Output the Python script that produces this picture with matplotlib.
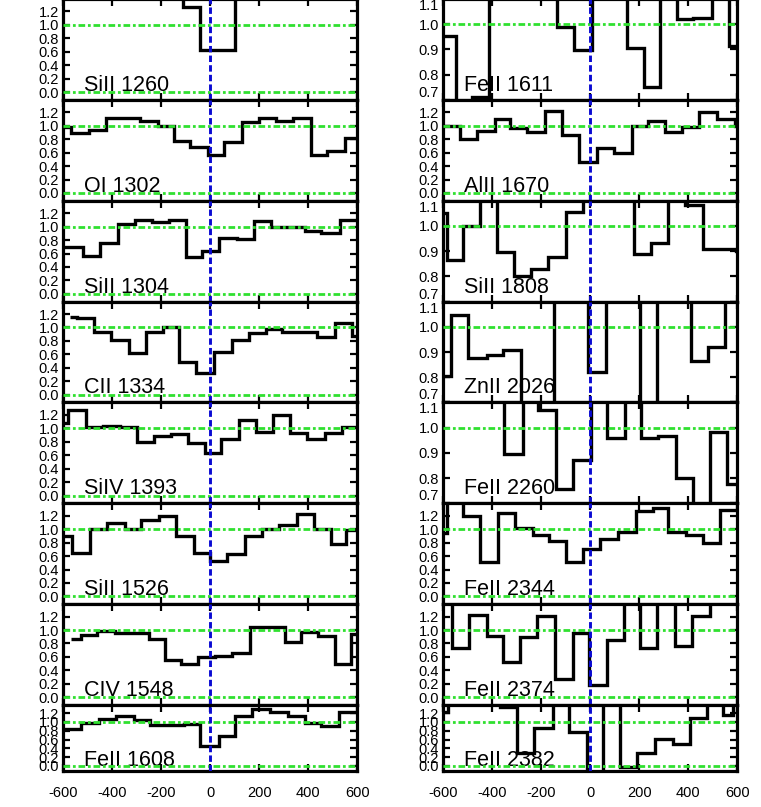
import matplotlib
matplotlib.use('Agg')
import matplotlib.pyplot as plt
from matplotlib.ticker import FixedLocator, FormatStrFormatter

plt.rcParams['font.family'] = ['Liberation Sans', 'DejaVu Sans']

# ---------------- data (velocity bin edges in km/s, normalised flux) ----------------
SiII1260_v = [-650, -111, -40, 30, 99, 650]
SiII1260_f = [1.6, 1.26, 0.63, 0.63, 1.6]

OI1302_v = [-640, -570, -497, -427, -358, -288, -214, -150, -82, -10, 56, 129, 197, 269, 339, 412, 478, 548, 650]
OI1302_f = [0.975, 0.89, 0.94, 1.12, 1.12, 1.07, 0.99, 0.77, 0.68, 0.56, 0.76, 1.05, 1.11, 1.07, 1.11, 0.56, 0.63, 0.82]

SiII1304_v = [-660, -520, -450, -377, -309, -237, -169, -98, -33, 35, 109, 178, 249, 317, 385, 453, 528, 660]
SiII1304_f = [0.69, 0.56, 0.76, 1.04, 1.10, 1.07, 1.10, 0.55, 0.63, 0.83, 0.82, 1.09, 1.00, 1.00, 0.93, 0.91, 1.10]

CII1334_v = [-574, -546, -475, -404, -332, -264, -193, -128, -57, 15, 90, 158, 229, 293, 365, 437, 508, 578, 650]
CII1334_f = [1.16, 1.14, 0.93, 0.81, 0.62, 0.93, 1.01, 0.49, 0.32, 0.64, 0.81, 0.92, 0.97, 0.93, 0.93, 0.86, 1.07, 0.87]

SiIV1393_v = [-650, -580, -508, -438, -370, -301, -230, -159, -91, -23, 45, 117, 188, 256, 327, 396, 467, 537, 650]
SiIV1393_f = [1.08, 1.27, 1.02, 1.04, 1.02, 0.80, 0.89, 0.91, 0.78, 0.64, 0.84, 1.13, 0.95, 1.20, 0.93, 0.84, 0.93, 1.02]

SiII1526_v = [-650, -565, -490, -422, -350, -282, -210, -139, -68, -3, 69, 140, 211, 279, 354, 423, 491, 555, 650]
SiII1526_f = [0.90, 0.64, 1.00, 1.09, 1.00, 1.14, 1.20, 0.90, 0.65, 0.52, 0.63, 0.90, 1.00, 1.06, 1.22, 1.00, 0.78, 0.99]

CIV1548_v = [-570, -529, -461, -391, -320, -252, -186, -118, -50, 20, 90, 161, 235, 303, 369, 439, 507, 576, 650]
CIV1548_f = [0.87, 0.93, 0.98, 0.96, 0.95, 0.86, 0.55, 0.50, 0.60, 0.62, 0.66, 1.05, 1.04, 0.82, 0.97, 0.91, 0.50, 0.94]

FeII1608_v = [-650, -529, -456, -384, -312, -248, -180, -108, -40, 34, 99, 171, 245, 317, 385, 453, 524, 650]
FeII1608_f = [0.83, 0.98, 1.07, 1.14, 1.04, 0.92, 0.92, 0.96, 0.45, 0.69, 1.13, 1.29, 1.22, 1.14, 0.98, 0.90, 1.22]

FeII1611_v = [-650, -548, -484, -412, -344, -275, -206, -137, -67, 5, 77, 148, 219, 284, 352, 420, 495, 567, 650]
FeII1611_f = [0.955, 0.65, 0.71, 1.2, 1.2, 1.2, 1.2, 0.988, 0.896, 1.2, 1.2, 0.905, 0.75, 1.2, 1.02, 1.026, 1.2, 0.912]

AlII1670_v = [-650, -532, -461, -389, -328, -260, -185, -114, -46, 26, 97, 169, 234, 305, 373, 444, 516, 590, 650]
AlII1670_f = [1.0, 0.80, 0.925, 1.10, 0.965, 0.90, 1.215, 0.865, 0.465, 0.675, 0.59, 0.99, 1.065, 0.90, 0.975, 1.20, 1.10, 1.0]

SiII1808_v = [-650, -586, -518, -450, -382, -312, -244, -174, -99, -29, 41, 109, 178, 246, 318, 386, 459, 529, 595, 650]
SiII1808_f = [1.05, 0.863, 1.0, 1.2, 0.895, 0.803, 0.83, 0.876, 1.057, 1.2, 1.2, 1.2, 0.888, 0.932, 1.2, 1.085, 0.908, 0.91, 0.90]

ZnII2026_v = [-650, -570, -498, -423, -358, -283, -215, -147, -78, -8, 64, 133, 203, 271, 340, 410, 482, 550, 650]
ZnII2026_f = [0.804, 1.045, 0.877, 0.89, 0.907, 0.6, 0.6, 1.2, 1.2, 0.82, 1.2, 1.2, 0.6, 1.2, 1.2, 0.864, 0.919, 1.2]

FeII2260_v = [-650, -352, -276, -212, -140, -69, 1, 67, 142, 205, 278, 350, 420, 488, 559, 650]
FeII2260_f = [1.2, 0.895, 1.2, 1.072, 0.756, 0.872, 1.2, 0.96, 1.2, 0.957, 0.967, 0.80, 0.6, 0.983, 0.778]

FeII2344_v = [-650, -586, -518, -450, -376, -308, -235, -167, -99, -29, 39, 114, 185, 254, 318, 390, 459, 529, 650]
FeII2344_f = [0.95, 1.6, 1.20, 0.505, 1.24, 1.025, 0.91, 0.817, 0.505, 0.70, 0.85, 0.96, 1.27, 1.31, 0.96, 0.916, 0.79, 1.28]

FeII2374_v = [-650, -566, -494, -423, -358, -287, -216, -144, -72, -4, 67, 137, 203, 273, 346, 414, 488, 650]
FeII2374_f = [1.6, 0.735, 1.225, 0.907, 0.525, 0.897, 1.21, 0.27, 0.956, 0.18, 0.858, 1.6, 0.735, 1.6, 0.77, 1.21, 1.6]

FeII2382_v = [-650, -580, -369, -298, -230, -154, -86, -15, 50, 121, 189, 264, 336, 407, 475, 543, 584, 650]
FeII2382_f = [1.22, 1.6, 1.33, 0.30, 0.87, 1.6, 0.77, -0.3, 1.6, -0.02, 0.30, 0.62, 0.50, 1.09, 1.6, 1.16, 1.6]

left_panels = [
    ("SiII 1260", SiII1260_v, SiII1260_f, "full"),
    ("OI 1302", OI1302_v, OI1302_f, "full"),
    ("SiII 1304", SiII1304_v, SiII1304_f, "full"),
    ("CII 1334", CII1334_v, CII1334_f, "full"),
    ("SiIV 1393", SiIV1393_v, SiIV1393_f, "full"),
    ("SiII 1526", SiII1526_v, SiII1526_f, "full"),
    ("CIV 1548", CIV1548_v, CIV1548_f, "full"),
    ("FeII 1608", FeII1608_v, FeII1608_f, "full"),
]
right_panels = [
    ("FeII 1611", FeII1611_v, FeII1611_f, "narrow"),
    ("AlII 1670", AlII1670_v, AlII1670_f, "full"),
    ("SiII 1808", SiII1808_v, SiII1808_f, "narrow"),
    ("ZnII 2026", ZnII2026_v, ZnII2026_f, "narrow"),
    ("FeII 2260", FeII2260_v, FeII2260_f, "narrow"),
    ("FeII 2344", FeII2344_v, FeII2344_f, "full"),
    ("FeII 2374", FeII2374_v, FeII2374_f, "full"),
    ("FeII 2382", FeII2382_v, FeII2382_f, "full"),
]

xticks = [-600, -400, -200, 0, 200, 400, 600]
full_ticks = [0.0, 0.2, 0.4, 0.6, 0.8, 1.0, 1.2]
narrow_ticks = [0.7, 0.8, 0.9, 1.0, 1.1]

# ---------------- layout ----------------
W, H = 761, 807
fig = plt.figure(figsize=(W / 100, H / 100), dpi=100)
col_x = [63.3, 443.3]
ax_w = 294.0
top0 = -1.0
row_h = 100.86
bottom_last = 771.0

GREEN = '#30e030'
BLUE = '#0a0ad2'

for col, panels in enumerate([left_panels, right_panels]):
    for r, (name, edges, flux, kind) in enumerate(panels):
        top = top0 + r * row_h
        bot = top + row_h if r < 7 else bottom_last
        ax = fig.add_axes([col_x[col] / W, 1 - bot / H, ax_w / W, (bot - top) / H])
        ax.stairs(flux, edges, baseline=None, color='black', lw=2.4, zorder=2)
        ax.axhline(1.0, color=GREEN, lw=2.0, ls=(0, (2.4, 1.0, 1.0, 1.0)), zorder=3)
        if kind == "full":
            ax.axhline(0.0, color=GREEN, lw=2.0, ls=(0, (2.4, 1.0, 1.0, 1.0)), zorder=3)
            ax.set_ylim(-0.115, 1.385)
            ax.yaxis.set_major_locator(FixedLocator(full_ticks))
        else:
            ax.set_ylim(0.7, 1.1)
            ax.yaxis.set_major_locator(FixedLocator(narrow_ticks))
        ax.axvline(0.0, color=BLUE, lw=2.1, ls=(0, (2.2, 1.1)), zorder=4)
        ax.set_xlim(-600, 600)
        ax.xaxis.set_major_locator(FixedLocator(xticks))
        ax.yaxis.set_major_formatter(FormatStrFormatter('%.1f'))
        ax.xaxis.set_major_formatter(FormatStrFormatter('%d'))
        for s in ax.spines.values():
            s.set_linewidth(2.3)
        ax.tick_params(axis='both', direction='in', length=5, width=1.6,
                       top=True, right=True, labelsize=10.5)
        ax.tick_params(axis='y', pad=3)
        if r == 7:
            ax.tick_params(axis='x', pad=11)
        else:
            ax.tick_params(axis='x', labelbottom=False)
        if kind == "narrow":
            ticks = ax.yaxis.get_major_ticks()
            ticks[0].label1.set_verticalalignment('bottom')
            ticks[-1].label1.set_verticalalignment('top')
        ty = 0.09 if r < 7 else 0.08
        ax.text(0.07, ty, name, transform=ax.transAxes, fontsize=15.5,
                va='baseline', ha='left', zorder=1)

fig.savefig('out.png', dpi=100)
